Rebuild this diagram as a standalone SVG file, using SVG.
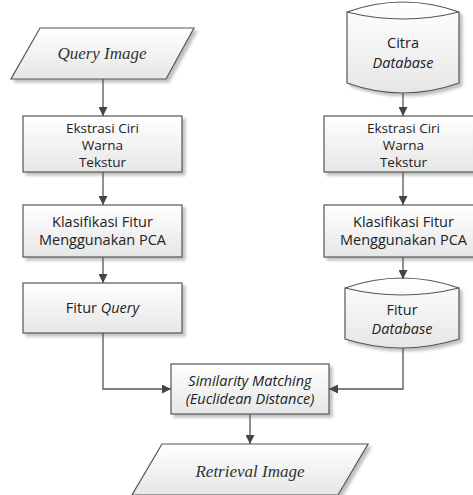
<svg xmlns="http://www.w3.org/2000/svg" width="473" height="495" viewBox="0 0 473 495">
<defs>
<linearGradient id="g" x1="0" y1="0" x2="0" y2="1">
<stop offset="0" stop-color="#ffffff"/>
<stop offset="1" stop-color="#e6e6e6"/>
</linearGradient>
<filter id="sh" x="-10%" y="-10%" width="130%" height="140%">
<feGaussianBlur in="SourceAlpha" stdDeviation="1.5"/>
<feOffset dx="3" dy="3" result="o"/>
<feComponentTransfer><feFuncA type="linear" slope="0.25"/></feComponentTransfer>
<feMerge><feMergeNode/><feMergeNode in="SourceGraphic"/></feMerge>
</filter>
<marker id="ah" viewBox="0 0 10 10" refX="10" refY="5" markerWidth="9" markerHeight="9" markerUnits="userSpaceOnUse" orient="auto">
<path d="M0,0 L10,5 L0,10 z" fill="#444"/>
</marker>
</defs>
<style>
.s{fill:url(#g);stroke:#555;stroke-width:1.2;filter:url(#sh)}
.t{font-family:"Open Sans","Liberation Sans",sans-serif;font-size:14.5px;fill:#222;text-anchor:middle}
.e{font-size:13.5px}
.i{font-style:italic}
.r{font-family:"Liberation Serif",serif;font-style:italic;font-size:17px;fill:#333;text-anchor:middle}
.c{fill:none;stroke:#555;stroke-width:1.3;marker-end:url(#ah)}
</style>
<rect width="473" height="495" fill="#fff"/>
<g id="query-image">
<path class="s" d="M40,28 L194,28 L166,79 L11,79 Z"/>
<text class="r" x="102" y="59">Query Image</text>
</g>
<g id="ekstrasi-left">
<rect class="s" x="23" y="116" width="159" height="56"/>
<text class="t e" x="102.5" y="133">Ekstrasi Ciri</text>
<text class="t e" x="102.5" y="150">Warna</text>
<text class="t e" x="102.5" y="167">Tekstur</text>
</g>
<g id="klasifikasi-left">
<rect class="s" x="23" y="205" width="159" height="52"/>
<text class="t" x="102.5" y="227">Klasifikasi Fitur</text>
<text class="t" x="102.5" y="245">Menggunakan PCA</text>
</g>
<g id="fitur-query">
<rect class="s" x="23" y="283" width="159" height="50"/>
<text class="t" x="102.5" y="313">Fitur <tspan class="i">Query</tspan></text>
</g>
<g id="citra-database">
<path class="s" d="M347,12 Q403,-8 459,12 L459,83 Q403,103 347,83 Z"/>
<path d="M347,12 Q403,26 459,12" fill="none" stroke="#555" stroke-width="1.2"/>
<text class="t" x="403" y="48">Citra</text>
<text class="t i" x="403" y="68">Database</text>
</g>
<g id="ekstrasi-right">
<rect class="s" x="324" y="116" width="159" height="56"/>
<text class="t e" x="403.5" y="133">Ekstrasi Ciri</text>
<text class="t e" x="403.5" y="150">Warna</text>
<text class="t e" x="403.5" y="167">Tekstur</text>
</g>
<g id="klasifikasi-right">
<rect class="s" x="324" y="205" width="159" height="52"/>
<text class="t" x="403.5" y="227">Klasifikasi Fitur</text>
<text class="t" x="403.5" y="245">Menggunakan PCA</text>
</g>
<g id="fitur-database">
<path class="s" d="M345,288 Q402,268 459,288 L459,339 Q402,357 345,339 Z"/>
<path d="M345,288 Q402,302 459,288" fill="none" stroke="#555" stroke-width="1.2"/>
<text class="t" x="402" y="315">Fitur</text>
<text class="t i" x="402" y="334">Database</text>
</g>
<g id="similarity">
<rect class="s" x="171" y="364" width="158" height="50"/>
<text class="t i" x="250" y="386">Similarity Matching</text>
<text class="t i" x="250" y="404">(Euclidean Distance)</text>
</g>
<g id="retrieval-image">
<path class="s" d="M162,444 L368,444 L338,495 L132,495 Z"/>
<text class="r" x="250" y="477">Retrieval Image</text>
</g>
<g id="connectors">
<path class="c" d="M103,79 L103,116"/>
<path class="c" d="M103,172 L103,205"/>
<path class="c" d="M103,257 L103,283"/>
<path class="c" d="M103,333 L103,389 L171,389"/>
<path class="c" d="M403,93 L403,116"/>
<path class="c" d="M403,172 L403,205"/>
<path class="c" d="M403,257 L403,279"/>
<path class="c" d="M403,348 L403,389 L329,389"/>
<path class="c" d="M250,414 L250,444"/>
</g>
</svg>
